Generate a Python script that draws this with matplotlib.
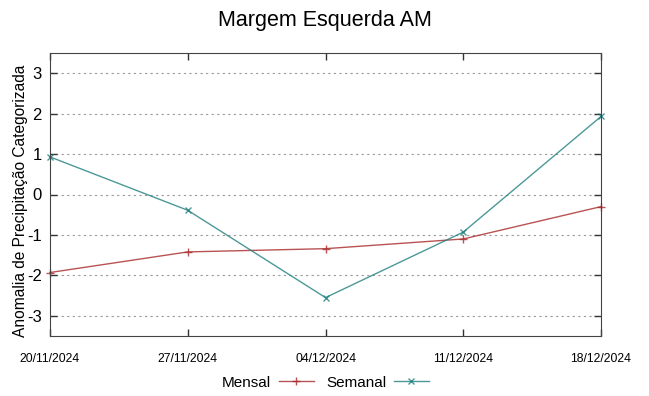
import matplotlib
matplotlib.use('Agg')
from matplotlib import pyplot as plt

datas = ['20/11/2024', '27/11/2024', '04/12/2024', '11/12/2024', '18/12/2024']
mensal = [-1.93, -1.42, -1.34, -1.10, -0.30]
semanal = [0.93, -0.39, -2.55, -0.93, 1.93]
yticks = [-3, -2, -1, 0, 1, 2, 3]

plt.rcParams['font.family'] = ['Liberation Sans', 'DejaVu Sans']

fig = plt.figure(figsize=(6.49, 3.96), dpi=100)
ax = fig.add_axes([50 / 649, 1 - 336 / 396, 551 / 649, 283 / 396])

x = list(range(len(datas)))
ax.plot(x, mensal, color='#a82828', lw=1, marker='+', ms=6, mew=1, alpha=0.8,
        label='Mensal', clip_on=False)
ax.plot(x, semanal, color='#1f7f7f', lw=1, marker='x', ms=5, mew=1, alpha=0.8,
        label='Semanal', clip_on=False)

ax.set_xlim(0, len(datas) - 1)
ax.set_ylim(-3.5, 3.5)
ax.set_xticks(x)
ax.set_xticklabels(datas, fontsize=8.8)
ax.set_yticks(yticks)
ax.set_yticklabels([str(v) for v in yticks], fontsize=12)
ax.tick_params(direction='in', top=True, right=True, length=5, width=1, colors='#333333')
ax.tick_params(axis='x', pad=12, labelcolor='black')
ax.tick_params(axis='y', pad=6, labelcolor='black')
ax.yaxis.grid(True, linestyle=(0, (2, 3)), color='#999999', lw=0.8)
for s in ax.spines.values():
    s.set_color('#444444')

ax.set_ylabel('Anomalia de Precipitação Categorizada', fontsize=11.2)
ax.yaxis.set_label_coords(-0.040, 0.477)
fig.suptitle('Margem Esquerda AM', fontsize=15.5, y=0.975)

ax.legend(loc='center', bbox_to_anchor=(0.5, -0.165), ncol=2, frameon=False,
          markerfirst=False, fontsize=11, handlelength=2.3, columnspacing=0.8,
          handletextpad=0.5)

plt.savefig('out.png', dpi=100)
